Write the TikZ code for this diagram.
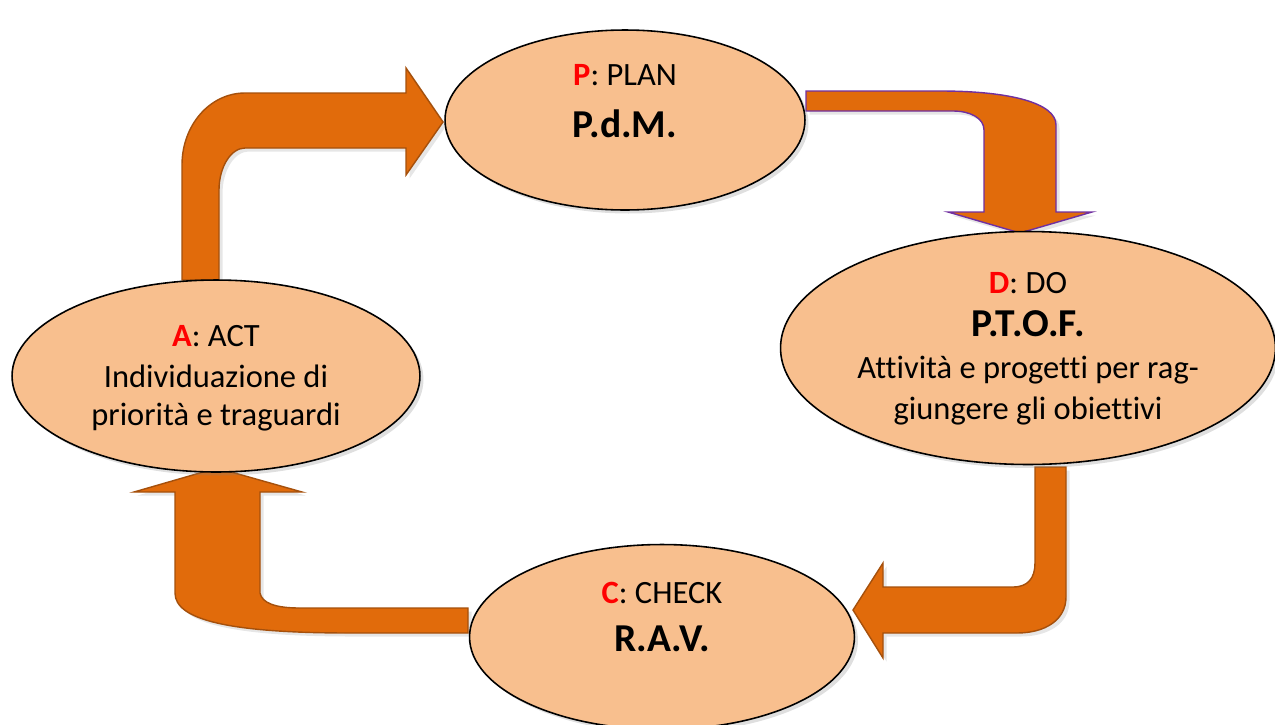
\documentclass[tikz,border=0pt]{standalone}
\usepackage{fontspec}
\setmainfont[Ligatures={NoCommon}]{Carlito}
\usetikzlibrary{shapes.geometric,shadows}
\definecolor{pdcafill}{HTML}{F8BF8E}
\definecolor{arrowfill}{HTML}{E16B0B}
\definecolor{arrowline}{HTML}{A5500C}
\definecolor{arrowpurple}{HTML}{7030A0}
\begin{document}
\begin{tikzpicture}
		[x=0.02cm, y=-0.02cm,
		phase/.style={ellipse, draw, line width=0.9pt, fill=pdcafill, inner sep=0pt,
			drop shadow={opacity=0.25, shadow xshift=2pt, shadow yshift=-2pt}},
		bigarrow/.style={fill=arrowfill, draw=arrowline, line width=0.8pt,
			drop shadow={opacity=0.2, shadow xshift=2pt, shadow yshift=-2pt}},
		lbl/.style={align=center, font=\fontsize{18.5}{23.5}\selectfont}]
		\useasboundingbox (0,0) rectangle (1275,724);
		\newcommand{\letter}[1]{\textcolor{red}{\textbf{#1}}}
		\newcommand{\bigname}[1]{{\fontsize{22.5}{24}\selectfont\bfseries #1}}

			% the four block arrows of the cycle
			\draw[bigarrow] (182,280) -- (182,165) .. controls (182,125) and (210,93) .. (245,93)
				-- (406,93) -- (406,68) -- (443,122) -- (406,175) -- (406,148) -- (245,148)
				.. controls (231,148) and (219,167) .. (219,190) -- (219,280) -- cycle;
			\draw[bigarrow, draw=arrowpurple] (806,91) -- (940,91) .. controls (1010,91) and (1056,103) .. (1056,125)
				-- (1056,212) -- (1092,212) -- (1020,233) -- (948,212) -- (984,212) -- (984,130)
				.. controls (984,118) and (970,111) .. (953,111) -- (806,111) -- cycle;
			\draw[bigarrow] (1035,467) -- (1066,467) -- (1066,597) .. controls (1066,620) and (1045,633) .. (1017,633)
				-- (883,633) -- (883,658) -- (853,610) -- (883,563) -- (883,587) -- (1013,587)
				.. controls (1028,587) and (1035,578) .. (1035,563) -- cycle;
			\draw[bigarrow] (468,608) -- (468,633) -- (350,633) .. controls (230,633) and (175,620) .. (175,593)
				-- (175,492) -- (134,492) -- (217,468) -- (302,492) -- (260,492) -- (260,593)
				.. controls (262,603) and (275,608) .. (300,608) -- cycle;

			% the four phases
			\node[phase, minimum width=7.2cm, minimum height=3.6cm] (plan) at (625,120) {};
			\node[phase, minimum width=9.9cm, minimum height=4.66cm] (do) at (1028,348) {};
			\node[phase, minimum width=7.7cm, minimum height=3.7cm] (check) at (662,637) {};
			\node[phase, minimum width=8.16cm, minimum height=3.84cm] (act) at (216,376) {};

			\node[lbl] (plantxt) at (625,101) {\letter{P}: PLAN\\[6pt]\bigname{P.d.M.}};
			\node[lbl] (dotxt) at (1028,349) {\letter{D}: DO\\[1pt]\bigname{P.T.O.F.}\\
				Attività e progetti per rag-\\giungere gli obiettivi};
			\node[lbl] (checktxt) at (662,617) {\letter{C}: CHECK\\[4pt]\bigname{R.A.V.}};
			\node[lbl] (acttxt) at (216,378) {\letter{A}: ACT\\Individuazione di\\[-2pt]priorità e traguardi};
		\end{tikzpicture}
\end{document}
